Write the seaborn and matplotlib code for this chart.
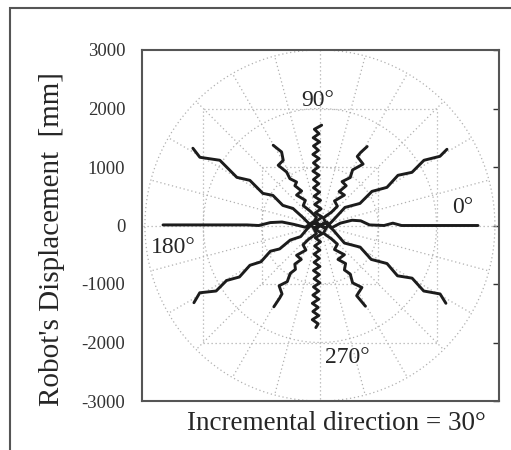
import numpy as np
import pandas as pd
import matplotlib
matplotlib.use("Agg")
import matplotlib.pyplot as plt
import matplotlib.patches as mpatches
import seaborn as sns

# ---------------- data (mm) ----------------
yticks = [-3000, -2000, -1000, 0, 1000, 2000, 3000]
ytick_labels = ["-3000", "-2000", "-1000", "0", "1000", "2000", "3000"]

angle_labels = ["0°", "90°", "180°", "270°"]

p000_x = [0, 120, 200, 350, 550, 700, 850, 1100, 1250, 1400, 2710]
p000_y = [0, 60, -40, 40, 90, 80, 10, 0, 40, 0, 0]

p030_x = [0, 90, 223, 429, 686, 892, 1149, 1338, 1578, 1784, 2058, 2178]
p030_y = [0, -50, 86, 309, 377, 583, 652, 858, 909, 1115, 1183, 1303]

p060_x = [0, 100, 60, 200, 300, 250, 420, 330, 450, 380, 520, 560, 740, 640, 700, 810]
p060_y = [0, 40, 130, 230, 330, 420, 520, 580, 680, 750, 820, 950, 1050, 1180, 1250, 1350]

p090_x = [0, -70, 40, -80, 20, -90, 10, -100, -5, -110, -20, -110, -15,
          -120, -25, -110, -15, -120, -25, -110, -5, -115, -15, -95, 30]
p090_y = [0, 70, 145, 215, 285, 360, 430, 500, 570, 645, 715, 785, 860,
          930, 1000, 1070, 1145, 1215, 1285, 1360, 1430, 1500, 1570, 1645, 1715]

p120_x = [0, -110, -60, -172, -286, -250, -400, -314, -429, -400, -515, -571, -715, -629, -657, -801]
p120_y = [0, 40, 142, 250, 340, 430, 520, 590, 680, 743, 801, 914, 1029, 1115, 1257, 1372]

p150_x = [0, -90, -206, -292, -463, -635, -806, -978, -1201, -1424, -1715, -2058, -2178]
p150_y = [0, -50, 51, 137, 292, 343, 515, 549, 772, 823, 1115, 1166, 1321]

p180_x = [0, -120, -250, -450, -650, -850, -1050, -1250, -2690]
p180_y = [0, 60, -30, 20, 60, 50, 0, 10, 10]

p210_x = [0, -90, -220, -330, -510, -690, -850, -1010, -1200, -1380, -1600, -1780, -2060, -2160]
p210_y = [0, 60, -60, -190, -250, -400, -440, -620, -680, -880, -940, -1120, -1150, -1320]

p240_x = [0, -110, -60, -200, -290, -240, -400, -320, -430, -420, -510, -560, -700, -650, -690, -790]
p240_y = [0, -40, -140, -240, -330, -420, -510, -580, -660, -750, -820, -960, -1030, -1170, -1240, -1390]

p270_x = [0, -70, 40, -80, 10, -90, 0, -100, -10, -100, 0, -110, -10,
          -100, 0, -110, -20, -120, -20, -130, -30, -120, -20, -130, -30, -70]
p270_y = [0, -70, -140, -210, -280, -350, -420, -490, -560, -630, -700, -770, -840,
          -910, -980, -1050, -1120, -1190, -1260, -1330, -1400, -1470, -1540, -1610, -1680, -1745]

p300_x = [0, 110, 60, 200, 300, 250, 420, 310, 440, 420, 520, 560, 720, 630, 680, 780]
p300_y = [0, -40, -130, -230, -320, -410, -500, -580, -650, -760, -830, -980, -1060, -1200, -1260, -1380]

p330_x = [0, 90, 230, 420, 690, 880, 1150, 1330, 1580, 1780, 2060, 2160]
p330_y = [0, 50, -80, -300, -370, -580, -650, -860, -900, -1120, -1170, -1330]

paths = {
    "0": (p000_x, p000_y), "30": (p030_x, p030_y), "60": (p060_x, p060_y),
    "90": (p090_x, p090_y), "120": (p120_x, p120_y), "150": (p150_x, p150_y),
    "180": (p180_x, p180_y), "210": (p210_x, p210_y), "240": (p240_x, p240_y),
    "270": (p270_x, p270_y), "300": (p300_x, p300_y), "330": (p330_x, p330_y),
}

rows = []
for name, (xs, ys) in paths.items():
    for i, (xv, yv) in enumerate(zip(xs, ys)):
        rows.append({"path": name, "step": i, "x": xv, "y": yv})
df = pd.DataFrame(rows)

# ---------------- style ----------------
sns.set_style("white")
plt.rcParams["font.family"] = ["Liberation Serif", "DejaVu Serif"]

fig = plt.figure(figsize=(5.11, 4.5), dpi=100)
ax = fig.add_axes([142 / 511, 49 / 450, 357 / 511, 351 / 450])

grid_kw = dict(color="#b0b0b0", lw=0.9, ls=(0, (1, 2.2)), zorder=1)

# polar circles
th = np.linspace(0, 2 * np.pi, 400)
for r in (1000, 2000, 3000):
    ax.plot(r * np.cos(th), r * np.sin(th), **grid_kw)
# spokes every 15 degrees
for a in range(0, 360, 15):
    if a % 90 == 0:
        continue
    t = np.deg2rad(a)
    ax.plot([0, 3000 * np.cos(t)], [0, 3000 * np.sin(t)], **grid_kw)
# main cross lines
ax.plot([-3100, 3100], [0, 0], **grid_kw)
ax.plot([0, 0], [-3100, 3100], **grid_kw)
# squares
for s in (1000, 2000):
    ax.plot([-s, s, s, -s, -s], [-s, -s, s, s, -s], **grid_kw)

sns.lineplot(data=df, x="x", y="y", units="path", estimator=None, sort=False,
             color="#1c1c1c", lw=2.1, legend=False, ax=ax, zorder=3)

ax.set_xlim(-3050, 3070)
ax.set_ylim(-3000, 3000)
ax.set_xticks([])
ax.set_yticks(yticks)
ax.set_yticklabels(ytick_labels, fontsize=13.5)
ax.set_xlabel("")
ax.tick_params(axis="y", direction="in", length=4, width=1, right=True,
               pad=12, colors="#333333")
for sp in ax.spines.values():
    sp.set_color("#555555")
    sp.set_linewidth(1.5)
    sp.set_visible(True)

# angle labels
ax.text(2453, 309, angle_labels[0], fontsize=17, ha="center", va="center", zorder=4)
ax.text(-34, 2144, angle_labels[1], fontsize=17, ha="center", va="center", zorder=4)
ax.text(-2521, -377, angle_labels[2], fontsize=17, ha="center", va="center", zorder=4)
ax.text(463, -2264, angle_labels[3], fontsize=17, ha="center", va="center", zorder=4)

ax.set_xlabel("Incremental direction = 30°", fontsize=19.5, va="center")
ax.xaxis.set_label_coords((336 - 142) / 357, -(423 - 401) / 351)
ax.set_ylabel("Robot's Displacement  [mm]", fontsize=21, va="center", ha="center")
ax.yaxis.set_label_coords((52 - 142) / 357, (401 - 239) / 351)

# figure frame (scanned border)
frame = mpatches.Rectangle((10 / 511, -0.1), 1.2, 1.1 - 8 / 450,
                           transform=fig.transFigure, fill=False,
                           ec="#555555", lw=1.5)
fig.add_artist(frame)

fig.savefig("out.png", dpi=100)
